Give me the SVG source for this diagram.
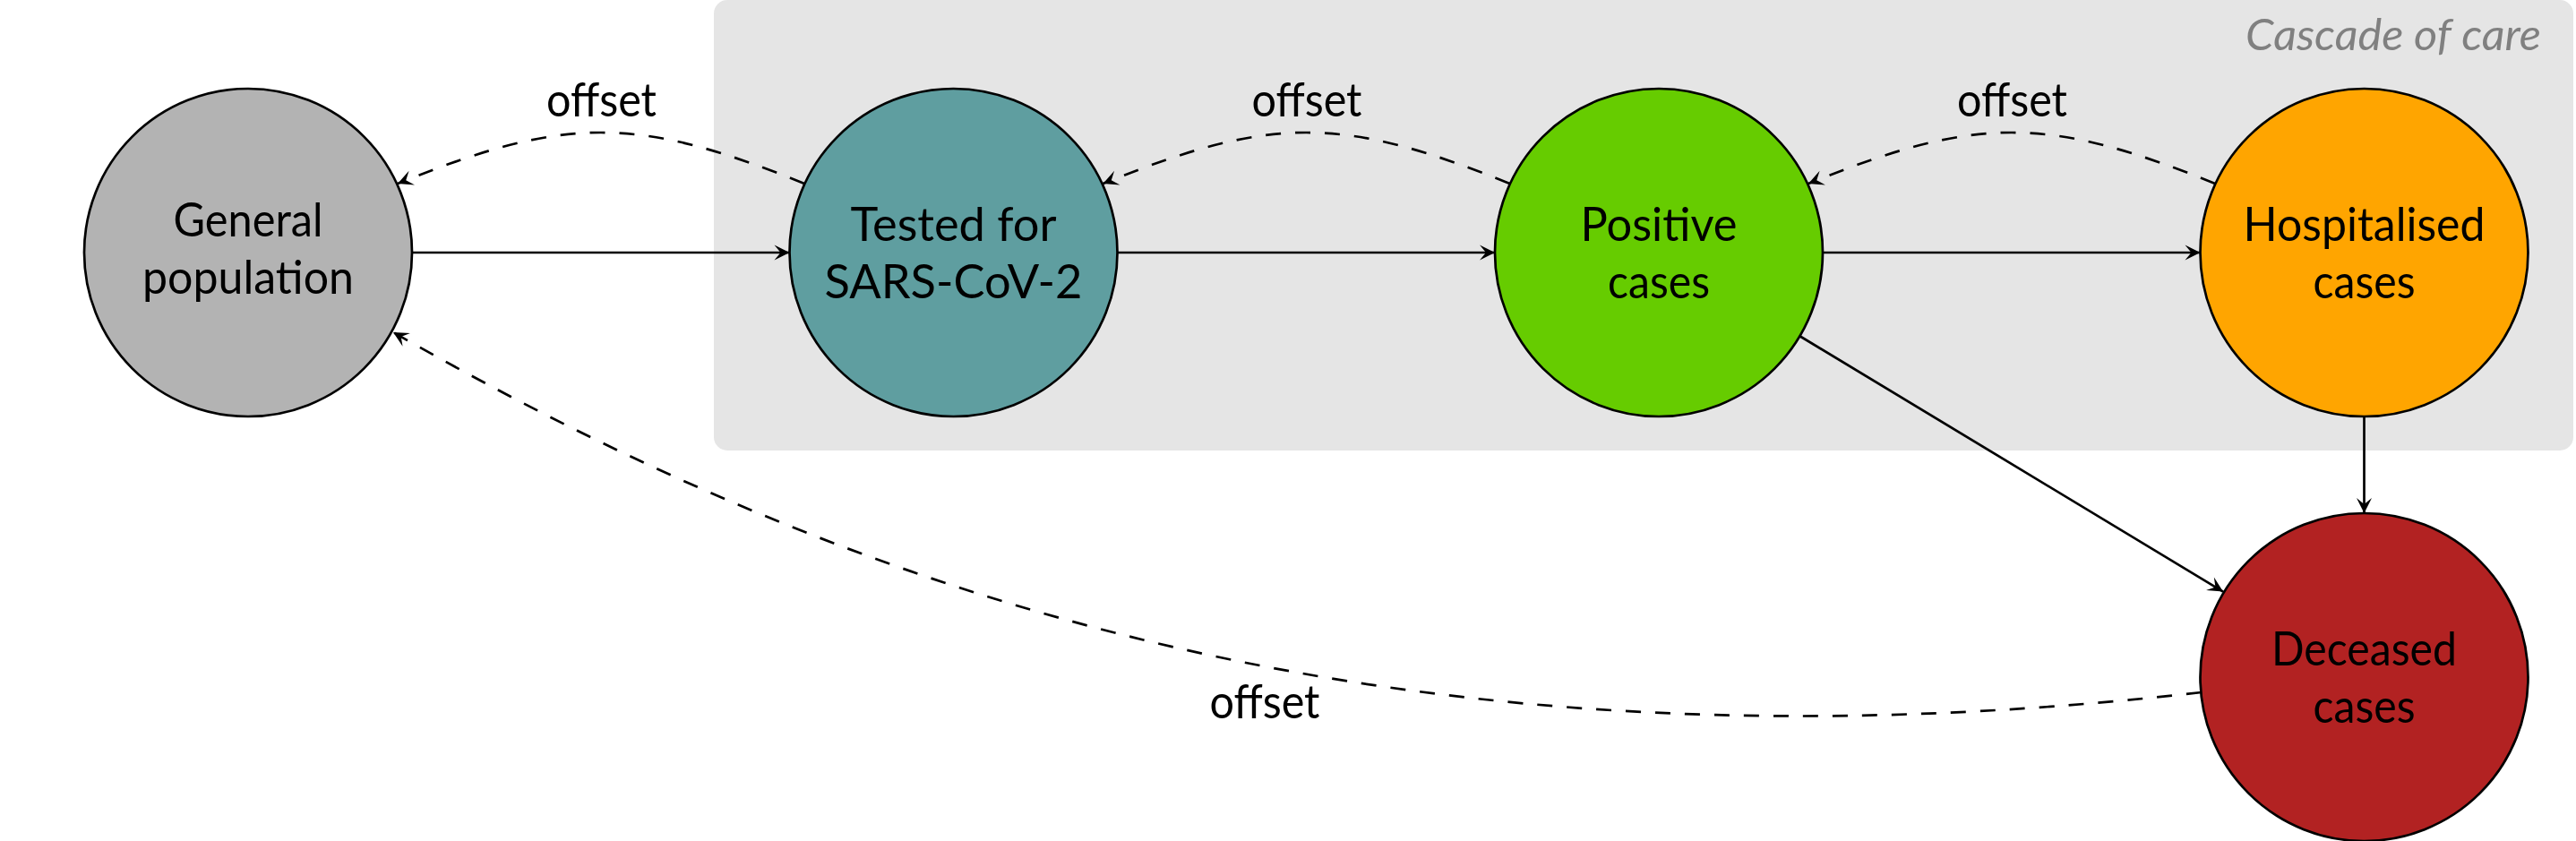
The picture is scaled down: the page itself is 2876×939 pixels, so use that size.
<svg xmlns="http://www.w3.org/2000/svg" width="2876" height="939" viewBox="0 0 2876 939">
<style>
.lbl{font-family:Lato,"Liberation Sans",sans-serif;font-size:52px;fill:#000;text-anchor:middle}
.ttl{font-family:Lato,"Liberation Sans",sans-serif;font-size:49px;font-style:italic;fill:#808080;text-anchor:end}
.nc{stroke:#000;stroke-width:2.7}
.edge{fill:none;stroke:#000;stroke-width:2.7}
.dash{stroke-dasharray:17 16}
</style>
<defs>
<marker id="ah" markerUnits="userSpaceOnUse" viewBox="-19 -10 21 20" refX="0" refY="0" markerWidth="21" markerHeight="20" orient="auto">
<path d="M0,0 L-17,-8.5 L-10,0 L-17,8.5 Z" fill="#000" stroke="none"/>
</marker>
</defs>
<rect id="cascade-box" x="797" y="0" width="2076" height="503" rx="15" ry="15" fill="#e5e5e5"/>
<text class="ttl" x="2837" y="56" textLength="330" lengthAdjust="spacingAndGlyphs">Cascade of care</text>

<g id="general">
<circle class="nc" cx="277" cy="282" r="183" fill="#b3b3b3"/>
<text class="lbl" x="277" y="264" textLength="167" lengthAdjust="spacingAndGlyphs">General</text>
<text class="lbl" x="277" y="328" textLength="236" lengthAdjust="spacingAndGlyphs">population</text>
</g>
<g id="tested">
<circle class="nc" cx="1064.5" cy="282" r="183" fill="#5f9ea0"/>
<text class="lbl" x="1064.5" y="269" textLength="230" lengthAdjust="spacingAndGlyphs">Tested for</text>
<text class="lbl" x="1064.5" y="333" textLength="288" lengthAdjust="spacingAndGlyphs">SARS-CoV-2</text>
</g>
<g id="positive">
<circle class="nc" cx="1852" cy="282" r="183" fill="#66cc00"/>
<text class="lbl" x="1852" y="269" textLength="175" lengthAdjust="spacingAndGlyphs">Positive</text>
<text class="lbl" x="1852" y="333" textLength="114" lengthAdjust="spacingAndGlyphs">cases</text>
</g>
<g id="hospitalised">
<circle class="nc" cx="2639.5" cy="282" r="183" fill="#ffa500"/>
<text class="lbl" x="2639.5" y="269" textLength="270" lengthAdjust="spacingAndGlyphs">Hospitalised</text>
<text class="lbl" x="2639.5" y="333" textLength="114" lengthAdjust="spacingAndGlyphs">cases</text>
</g>
<g id="deceased">
<circle class="nc" cx="2639.5" cy="756" r="183" fill="#b22222"/>
<text class="lbl" x="2639.5" y="743" textLength="207" lengthAdjust="spacingAndGlyphs">Deceased</text>
<text class="lbl" x="2639.5" y="807" textLength="114" lengthAdjust="spacingAndGlyphs">cases</text>
</g>

<g id="connectors">
<path class="edge" d="M460,282 L881.5,282" marker-end="url(#ah)"/>
<path class="edge" d="M1247.5,282 L1669,282" marker-end="url(#ah)"/>
<path class="edge" d="M2035,282 L2456.5,282" marker-end="url(#ah)"/>
<path class="edge" d="M2639.5,465 L2639.5,573" marker-end="url(#ah)"/>
<path class="edge" d="M2009,375 L2482,660.6" marker-end="url(#ah)"/>
<path class="edge dash" d="M898,205 C710,129 632,129 444,205" marker-end="url(#ah)"/>
<path class="edge dash" d="M1685.5,205 C1497.5,129 1419.5,129 1231.5,205" marker-end="url(#ah)"/>
<path class="edge dash" d="M2473,205 C2285,129 2207,129 2019,205" marker-end="url(#ah)"/>
<path class="edge dash" d="M2458,773 C1564,875 963,670 439,371" marker-end="url(#ah)"/>
<text class="lbl" x="671.5" y="130" textLength="123" lengthAdjust="spacingAndGlyphs">offset</text>
<text class="lbl" x="1459" y="130" textLength="123" lengthAdjust="spacingAndGlyphs">offset</text>
<text class="lbl" x="2246.5" y="130" textLength="123" lengthAdjust="spacingAndGlyphs">offset</text>
<text class="lbl" x="1412" y="802" textLength="123" lengthAdjust="spacingAndGlyphs">offset</text>
</g>
</svg>
